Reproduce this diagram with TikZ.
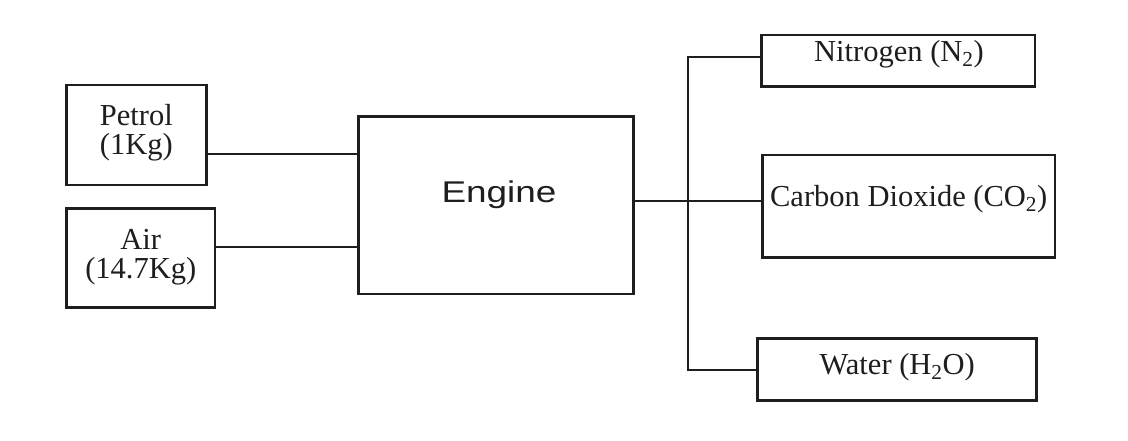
\documentclass[tikz,border=0pt]{standalone}
\usepackage{fontspec}
\setmainfont{Liberation Serif}
\newfontfamily\enginefont{Liberation Sans}
\definecolor{ink}{HTML}{1E1E1E}
\begin{document}
\begin{tikzpicture}[x=1pt,y=1pt,
  box/.style={draw=ink,line width=2.7pt,rectangle,inner sep=0pt,fill=none},
  lbl/.style={font=\fontsize{30.5}{29}\selectfont,text=ink,align=center,inner sep=0pt},
  wire/.style={draw=ink,line width=2pt}]
\fill[white] (0,0) rectangle (1128,-441);
\useasboundingbox (0,0) rectangle (1128,-441);

\node[box,minimum width=140pt,minimum height=100pt] (petrol) at (136.3,-135) {};
\node[lbl] (petroltxt) at (136.3,-132.5) {Petrol\\(1Kg)};
\node[box,minimum width=148.3pt,minimum height=99pt] (air) at (140.8,-257.8) {};
\node[lbl] (airtxt) at (140.8,-257.5) {Air\\(14.7Kg)};
\node[box,minimum width=275pt,minimum height=177.3pt] (engine) at (495.8,-205.3) {};
\node[text=ink,inner sep=0pt] (enginetxt) at (499,-195) {\scalebox{1.23}[1]{\enginefont\fontsize{30}{30}\selectfont Engine}};
\node[box,minimum width=273.3pt,minimum height=51.7pt] (n2) at (898.3,-60.8) {};
\node[lbl] (n2txt) at (899,-54) {Nitrogen (N\textsubscript{2})};
\node[box,minimum width=292.7pt,minimum height=102.7pt] (co2) at (908.7,-206.3) {};
\node[lbl] (co2txt) at (908.7,-199) {Carbon Dioxide (CO\textsubscript{2})};
\node[box,minimum width=279pt,minimum height=62.4pt] (h2o) at (897.2,-369.5) {};
\node[lbl] (h2otxt) at (897.2,-367) {Water (H\textsubscript{2}O)};

\coordinate (pl) at (0,-154.3);
\coordinate (al) at (0,-246.7);
\coordinate (jt) at (688.3,-56.7);
\coordinate (jm) at (688.3,-200.7);
\coordinate (jb) at (688.3,-370);

\draw[wire] (petrol.east |- pl) -- (engine.west |- pl);
\draw[wire] (air.east |- al) -- (engine.west |- al);
\draw[wire] (engine.east |- jm) -- (co2.west |- jm);
\draw[wire] (n2.west |- jt) -- (jt) -- (jb) -- (h2o.west |- jb);
\end{tikzpicture}
\end{document}
